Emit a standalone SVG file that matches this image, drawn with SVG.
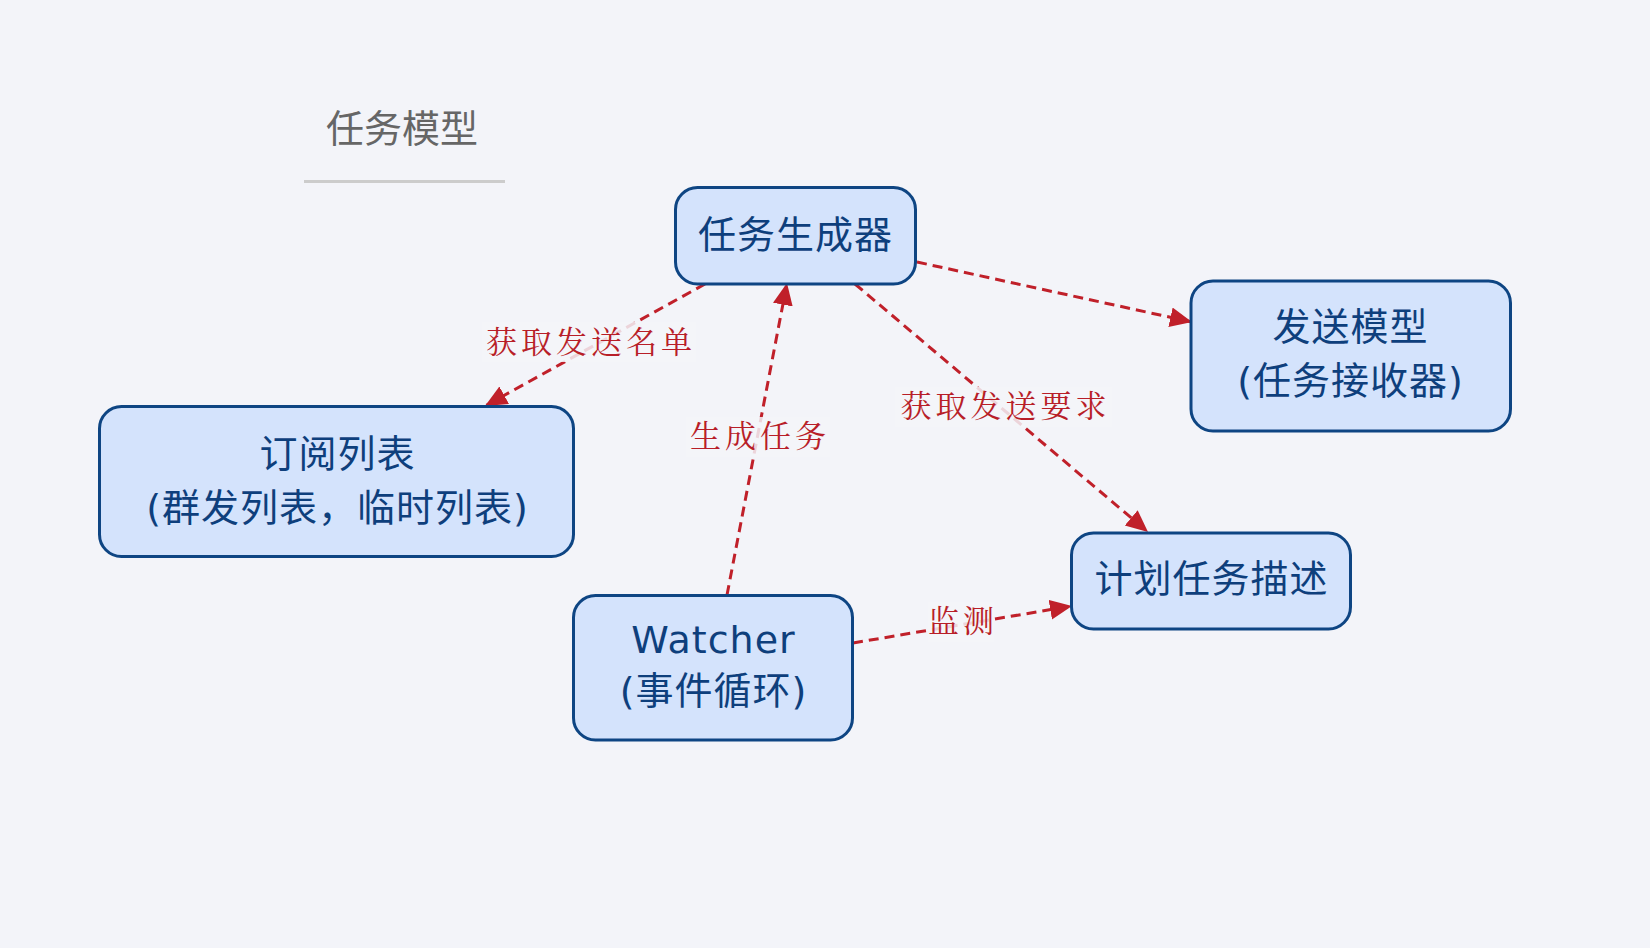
<svg xmlns="http://www.w3.org/2000/svg" width="1650" height="948" viewBox="0 0 1650 948">
<style>
.node rect{fill:#d4e3fc;stroke:#0e4583;stroke-width:3}
.node text{font-family:"DejaVu Sans","Noto Sans CJK SC",sans-serif;font-size:38px;fill:#0e3f7c;text-anchor:middle;letter-spacing:1px}
.edge{fill:none;stroke:#c0202a;stroke-width:3;stroke-dasharray:10 6}
.lbl rect{fill:#f3f4f9;opacity:0.85}
.lbl text{font-family:"Noto Serif CJK SC","Noto Sans CJK SC",serif;font-size:31px;fill:#b81e28;text-anchor:middle;letter-spacing:4px}
</style>
<defs>
<marker id="arr" markerUnits="userSpaceOnUse" markerWidth="24" markerHeight="22" refX="22" refY="10" orient="auto">
<path d="M0,0 L22,10 L0,20 z" fill="#c0202a"/>
</marker>
</defs>
<rect x="0" y="0" width="1650" height="948" fill="#f3f4f9"/>
<g id="title">
<text x="402" y="142" font-family="Noto Sans CJK SC, sans-serif" font-size="38" fill="#666666" text-anchor="middle">任务模型</text>
<line x1="304" y1="181.5" x2="505" y2="181.5" stroke="#cccccc" stroke-width="3"/>
</g>
<g id="edges">
<path class="edge" d="M705,284 L485,406" marker-end="url(#arr)"/>
<path class="edge" d="M727,595 L787,283" marker-end="url(#arr)"/>
<path class="edge" d="M917,262 L1192,322" marker-end="url(#arr)"/>
<path class="edge" d="M855,284 L1148,532" marker-end="url(#arr)"/>
<path class="edge" d="M853,643 L1072,606" marker-end="url(#arr)"/>
</g>
<g id="labels">
<g class="lbl"><rect x="482" y="322" width="214" height="40"/><text x="591" y="353">获取发送名单</text></g>
<g class="lbl"><rect x="686" y="417" width="144" height="40"/><text x="760" y="447">生成任务</text></g>
<g class="lbl"><rect x="895" y="387" width="217" height="40"/><text x="1005.5" y="417">获取发送要求</text></g>
<g class="lbl"><rect x="928" y="602" width="66" height="40"/><text x="963" y="632">监测</text></g>
</g>
<g id="n-generator" class="node">
<rect x="675.5" y="187.5" width="240" height="96.5" rx="22"/>
<text x="795.5" y="248">任务生成器</text>
</g>
<g id="n-sender" class="node">
<rect x="1191" y="281" width="319.5" height="150" rx="22"/>
<text x="1350.5" y="340">发送模型</text>
<text x="1350.5" y="394">(任务接收器)</text>
</g>
<g id="n-sublist" class="node">
<rect x="99.5" y="406.5" width="474" height="150" rx="22"/>
<text x="337.5" y="467">订阅列表</text>
<text x="337.5" y="521">(群发列表，临时列表)</text>
</g>
<g id="n-plan" class="node">
<rect x="1071.5" y="533" width="279" height="96" rx="22"/>
<text x="1211.5" y="592">计划任务描述</text>
</g>
<g id="n-watcher" class="node">
<rect x="573.5" y="595.5" width="279" height="144.5" rx="22"/>
<text x="713.5" y="653">Watcher</text>
<text x="713.5" y="704">(事件循环)</text>
</g>
</svg>
